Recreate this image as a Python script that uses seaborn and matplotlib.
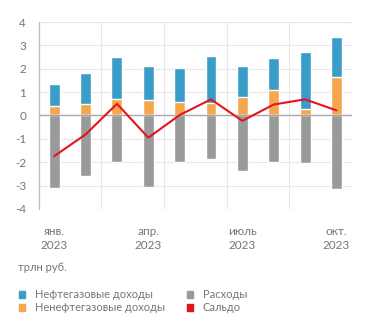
import numpy as np
import pandas as pd
import matplotlib
matplotlib.use("Agg")
import matplotlib.pyplot as plt
import seaborn as sns
from matplotlib.patches import Patch

months = ["01", "02", "03", "04", "05", "06", "07", "08", "09", "10"]
tick_labels = ["янв.\n2023", "апр.\n2023", "июль\n2023", "окт.\n2023"]
total_revenue = [1.35, 1.81, 2.50, 2.10, 2.03, 2.56, 2.13, 2.46, 2.73, 3.36]
non_oil_revenue = [0.42, 0.50, 0.69, 0.65, 0.56, 0.55, 0.81, 1.09, 0.29, 1.64]
expenses = [-3.10, -2.60, -2.00, -3.05, -2.00, -1.88, -2.36, -1.98, -2.05, -3.13]
balance = [-1.74, -0.81, 0.50, -0.95, 0.02, 0.69, -0.23, 0.47, 0.69, 0.22]

C_BLUE = "#3a9dc9"
C_ORANGE = "#f6a64c"
C_GRAY = "#9a9a9a"
C_RED = "#e3141c"
TXT = "#767676"

sns.set_style("white")
plt.rcParams["font.family"] = ["Lato", "DejaVu Sans"]

df = pd.DataFrame({"m": months, "total": total_revenue, "nonoil": non_oil_revenue,
                   "exp": expenses, "bal": balance, "pos": np.arange(len(months))})

fig = plt.figure(figsize=(3.71, 3.29), dpi=100)
ax = fig.add_axes([0.104, 0.365, 0.845, 0.568])

bw = 0.35
sns.barplot(data=df, x="m", y="total", color=C_BLUE, width=bw, saturation=1, ax=ax, zorder=3)
sns.barplot(data=df, x="m", y="nonoil", color=C_ORANGE, width=bw, saturation=1, ax=ax, zorder=3)
sns.barplot(data=df, x="m", y="exp", color=C_GRAY, width=bw, saturation=1, ax=ax, zorder=3)
sns.lineplot(data=df, x="pos", y="bal", color=C_RED, linewidth=1.5, ax=ax, zorder=5)

ax.set_xlim(-0.5, 9.5)
ax.set_ylim(-4, 4)
ax.set_yticks(range(-4, 5))
ax.set_yticklabels([str(v) for v in range(-4, 5)])
ax.set_xticks([0, 3, 6, 9])
ax.set_xticklabels(tick_labels)
ax.set_xticks([-0.5, 1.5, 3.5, 5.5, 7.5, 9.5], minor=True)
ax.set_xlabel("")
ax.set_ylabel("")

ax.grid(axis="y", color="#e6e6e6", linewidth=0.8, zorder=0)
ax.grid(axis="x", which="minor", color="#e6e6e6", linewidth=0.8, zorder=0)
ax.axhline(0, color="#aaaaaa", linewidth=1.0, zorder=4)

for s in ["top", "right", "bottom"]:
    ax.spines[s].set_visible(False)
ax.spines["left"].set_color("#bdbdbd")
ax.spines["left"].set_linewidth(0.9)

ax.tick_params(axis="y", which="major", length=0, labelsize=8.5, labelcolor=TXT, pad=9)
ax.tick_params(axis="x", which="major", length=0, labelsize=8.5, labelcolor=TXT, pad=12)
ax.tick_params(axis="x", which="minor", length=3, color="#cccccc", width=0.8)

for t in ax.get_xticklabels():
    t.set_multialignment("center")
    t.set_linespacing(1.35)

fig.text(0.048, 0.188, "трлн руб.", fontsize=8, color=TXT, ha="left", va="center")

h_order = [Patch(color=C_BLUE), Patch(color=C_ORANGE), Patch(color=C_GRAY), Patch(color=C_RED)]
l_order = ["Нефтегазовые доходы", "Ненефтегазовые доходы", "Расходы", "Сальдо"]
leg = fig.legend(h_order, l_order, ncol=2, loc="upper left", bbox_to_anchor=(0.035, 0.137),
                 frameon=False, fontsize=8, handlelength=0.55, handleheight=0.55,
                 handletextpad=0.9, columnspacing=2.0, labelspacing=0.15,
                 labelcolor=TXT, borderpad=0)

fig.savefig("out.png", dpi=100)
